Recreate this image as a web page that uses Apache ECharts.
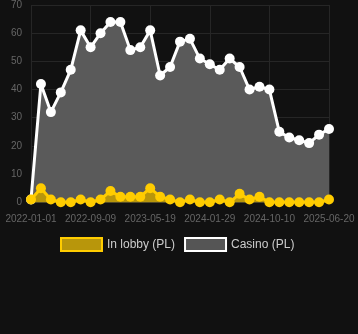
<!DOCTYPE html>
<html>
<head>
<meta charset="utf-8">
<script src="https://cdn.jsdelivr.net/npm/echarts@6/dist/echarts.min.js"></script>
<style>
html,body{margin:0;padding:0;background:#111111;}
#c{width:358px;height:334px;}
</style>
</head>
<body>
<div id="c"></div>
<script>
const dates = [
  '2022-01-01','2022-02-12','2022-03-26','2022-05-07','2022-06-18','2022-07-29',
  '2022-09-09','2022-10-21','2022-12-02','2023-01-13','2023-02-24','2023-04-07',
  '2023-05-19','2023-06-30','2023-08-12','2023-09-23','2023-11-04','2023-12-17',
  '2024-01-29','2024-03-11','2024-04-23','2024-06-04','2024-07-17','2024-08-28',
  '2024-10-10','2024-11-21','2025-01-02','2025-02-13','2025-03-27','2025-05-08',
  '2025-06-20'
];
const inLobby = [1,5,1,0,0,1,0,1,4,2,2,2,5,2,1,0,1,0,0,1,0,3,1,2,0,0,0,0,0,0,1];
const casino = [1,42,32,39,47,61,55,60,64,64,54,55,61,45,48,57,58,51,49,47,51,48,40,41,40,25,23,22,21,24,26];
const yTicks = [0,10,20,30,40,50,60,70];

const chart = echarts.init(document.getElementById('c'), null, {renderer:'canvas'});
chart.setOption({
  backgroundColor: '#111111',
  animation: false,
  grid: {left: 31, right: 29, top: 4.3, bottom: 131.7, containLabel: false},
  legend: {
    top: 232,
    left: 55,
    itemWidth: 41,
    itemHeight: 13,
    itemGap: 9,
    textStyle: {color: '#cccccc', fontSize: 12, fontFamily: 'Liberation Sans, Arial, sans-serif'},
    data: [
      {name: 'In lobby (PL)', icon: 'rect', itemStyle: {color: '#b8960b', borderColor: '#ffcc00', borderWidth: 2}},
      {name: 'Casino (PL)', icon: 'rect', itemStyle: {color: '#555555', borderColor: '#ffffff', borderWidth: 2}}
    ]
  },
  xAxis: {
    type: 'category',
    data: dates,
    boundaryGap: false,
    axisLine: {show: false},
    axisTick: {show: false},
    axisLabel: {color: '#666666', fontSize: 10, interval: 5, margin: 12, fontFamily: 'Liberation Sans, Arial, sans-serif'},
    splitLine: {show: true, interval: 5, lineStyle: {color: '#262626', width: 1}}
  },
  yAxis: {
    type: 'value',
    min: yTicks[0],
    max: yTicks[yTicks.length-1],
    interval: 10,
    axisLine: {show: false},
    axisTick: {show: false},
    axisLabel: {color: '#666666', fontSize: 10, margin: 9, fontFamily: 'Liberation Sans, Arial, sans-serif'},
    splitLine: {lineStyle: {color: '#262626', width: 1}}
  },
  series: [
    {
      name: 'In lobby (PL)',
      type: 'line',
      data: inLobby,
      z: 3,
      symbol: 'circle',
      symbolSize: 10,
      showAllSymbol: true,
      lineStyle: {color: '#ffcc00', width: 3},
      itemStyle: {color: '#ffcc00'},
      areaStyle: {color: '#b8960b', opacity: 1}
    },
    {
      name: 'Casino (PL)',
      type: 'line',
      data: casino,
      z: 2,
      symbol: 'circle',
      symbolSize: 10,
      showAllSymbol: true,
      lineStyle: {color: '#ffffff', width: 3},
      itemStyle: {color: '#ffffff'},
      areaStyle: {color: '#5a5a5a', opacity: 1}
    }
  ]
});
</script>
</body>
</html>
